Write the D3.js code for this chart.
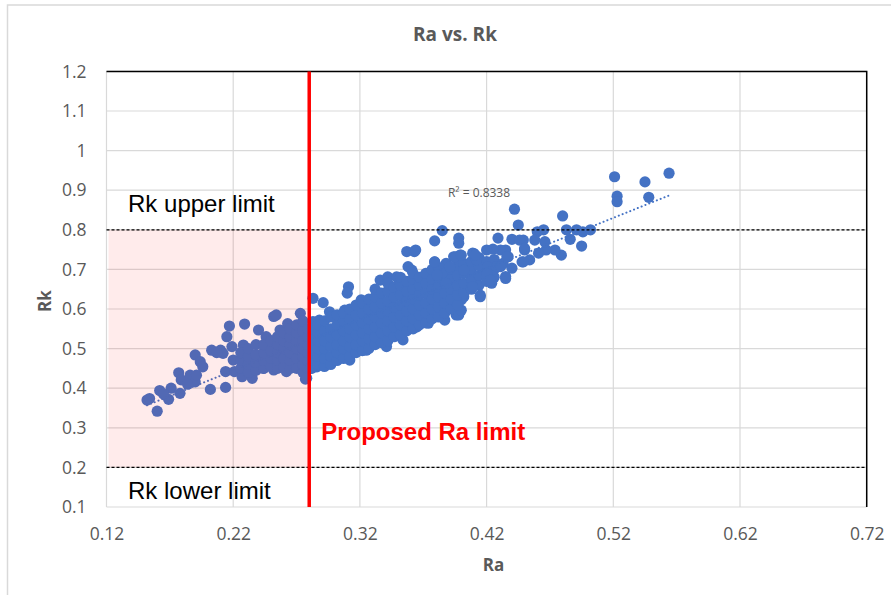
<!DOCTYPE html>
<html>
<head>
<meta charset="utf-8">
<script src="https://cdn.jsdelivr.net/npm/d3@7"></script>
<style>
  body { margin: 0; background: #fff; }
  svg { display: block; }
</style>
</head>
<body>
<div id="chart"></div>
<script>
var chartWidth = 891,
    chartHeight = 595;
var margin = { top: 71.4, right: 24.3, bottom: 88, left: 106.5 };

var xTicks = [0.12, 0.22, 0.32, 0.42, 0.52, 0.62, 0.72];
var yTicks = [0.1, 0.2, 0.3, 0.4, 0.5, 0.6, 0.7, 0.8, 0.9, 1, 1.1, 1.2];

var rkUpper = 0.8,
    rkLower = 0.2,
    raLimit = 0.28;
var r2Label = "R\u00b2 = 0.8338";

// points, [Ra, Rk]
var lowTail = [
  [0.152,0.370],[0.154,0.374],[0.160,0.342],[0.162,0.394],[0.169,0.372],[0.171,0.400],
  [0.178,0.387],[0.177,0.439],[0.179,0.421],[0.186,0.433],[0.190,0.416],[0.191,0.433],
  [0.190,0.484],[0.194,0.467],[0.196,0.454],[0.202,0.397],[0.203,0.496],[0.210,0.496],
  [0.212,0.488],[0.214,0.402],[0.215,0.530],[0.217,0.557],[0.214,0.442],[0.219,0.505],
  [0.220,0.471],[0.221,0.442],[0.165,0.385],[0.184,0.410],[0.207,0.490]
];

var pinkPoints = [
  [0.227,0.429],[0.229,0.562],[0.228,0.509],[0.231,0.480],[0.235,0.425],[0.236,0.454],
  [0.239,0.476],[0.240,0.547],[0.244,0.450],[0.246,0.530],[0.249,0.480],[0.252,0.446],
  [0.252,0.581],[0.254,0.585],[0.257,0.547],[0.258,0.505],[0.260,0.463],[0.262,0.442],
  [0.263,0.563],[0.266,0.530],[0.267,0.488],[0.270,0.454],[0.273,0.589],[0.274,0.547],
  [0.275,0.505],[0.276,0.471],[0.277,0.423]
];

var pinkCore = [
  [0.226,0.45],[0.226,0.47],[0.226,0.49],
  [0.232,0.44],[0.232,0.46],[0.232,0.48],[0.232,0.50],
  [0.238,0.445],[0.238,0.465],[0.238,0.485],[0.238,0.51],
  [0.244,0.45],[0.244,0.47],[0.244,0.49],[0.244,0.51],
  [0.250,0.455],[0.250,0.475],[0.250,0.495],[0.250,0.52],
  [0.255,0.45],[0.255,0.47],[0.255,0.49],[0.255,0.51],[0.255,0.53],
  [0.260,0.455],[0.260,0.475],[0.260,0.50],[0.260,0.52],[0.260,0.54],
  [0.265,0.45],[0.265,0.47],[0.265,0.49],[0.265,0.51],[0.265,0.53],[0.265,0.55],
  [0.270,0.45],[0.270,0.475],[0.270,0.50],[0.270,0.52],[0.270,0.54],[0.270,0.56],
  [0.275,0.44],[0.275,0.46],[0.275,0.48],[0.275,0.50],[0.275,0.52],[0.275,0.545],[0.275,0.57],
  [0.279,0.45],[0.279,0.47],[0.279,0.49],[0.279,0.51],[0.279,0.53],[0.279,0.55]
];

var bandPoints = [
  [0.283,0.627],[0.291,0.616],[0.288,0.572],[0.296,0.593],[0.283,0.568],[0.282,0.530],
  [0.282,0.463],[0.281,0.450],[0.291,0.513],[0.299,0.530],[0.304,0.555],[0.307,0.496],
  [0.311,0.656],[0.310,0.640],[0.308,0.597],[0.317,0.539],[0.315,0.505],[0.321,0.623],
  [0.325,0.597],[0.328,0.564],[0.331,0.530],[0.333,0.631],[0.336,0.673],[0.338,0.606],
  [0.341,0.505],[0.342,0.681],[0.344,0.564],[0.346,0.648],[0.349,0.681],[0.352,0.602],
  [0.354,0.522],[0.357,0.745],[0.358,0.707],[0.361,0.698],[0.363,0.745],[0.360,0.631],
  [0.365,0.555],[0.367,0.665],[0.370,0.597],[0.374,0.564],[0.373,0.681],[0.379,0.719],
  [0.381,0.648],[0.383,0.606],[0.387,0.572],[0.388,0.715],[0.391,0.673],[0.394,0.732],
  [0.396,0.585],[0.399,0.736],[0.402,0.631],[0.400,0.707],[0.407,0.698],[0.410,0.740],
  [0.412,0.665],[0.415,0.631],[0.417,0.707],[0.312,0.471],[0.307,0.480],[0.325,0.496],
  [0.291,0.488],[0.299,0.471],[0.286,0.454],[0.278,0.425],[0.364,0.749],[0.353,0.543],
  [0.364,0.555],[0.386,0.577],[0.398,0.585],[0.400,0.597],[0.400,0.623]
];

var bandCore = [
  [0.282,0.45],[0.282,0.47],[0.282,0.49],[0.282,0.51],[0.282,0.53],[0.282,0.55],
  [0.287,0.46],[0.287,0.48],[0.287,0.50],[0.287,0.52],[0.287,0.54],[0.287,0.56],
  [0.292,0.455],[0.292,0.475],[0.292,0.50],[0.292,0.52],[0.292,0.545],[0.292,0.57],
  [0.297,0.46],[0.297,0.48],[0.297,0.505],[0.297,0.53],[0.297,0.55],[0.297,0.58],
  [0.302,0.47],[0.302,0.49],[0.302,0.51],[0.302,0.535],[0.302,0.56],[0.302,0.585],
  [0.307,0.475],[0.307,0.50],[0.307,0.52],[0.307,0.545],[0.307,0.57],[0.307,0.59],
  [0.312,0.48],[0.312,0.505],[0.312,0.53],[0.312,0.55],[0.312,0.575],[0.312,0.60],
  [0.317,0.49],[0.317,0.51],[0.317,0.535],[0.317,0.56],[0.317,0.585],[0.317,0.61],
  [0.322,0.495],[0.322,0.52],[0.322,0.54],[0.322,0.565],[0.322,0.59],[0.322,0.615],
  [0.327,0.50],[0.327,0.525],[0.327,0.55],[0.327,0.575],[0.327,0.60],[0.327,0.625],
  [0.332,0.51],[0.332,0.53],[0.332,0.555],[0.332,0.58],[0.332,0.605],[0.332,0.63],[0.332,0.65],
  [0.337,0.515],[0.337,0.54],[0.337,0.565],[0.337,0.59],[0.337,0.615],[0.337,0.64],
  [0.342,0.52],[0.342,0.545],[0.342,0.57],[0.342,0.595],[0.342,0.62],[0.342,0.645],[0.342,0.665],
  [0.347,0.53],[0.347,0.555],[0.347,0.58],[0.347,0.605],[0.347,0.63],[0.347,0.655],
  [0.352,0.535],[0.352,0.56],[0.352,0.585],[0.352,0.61],[0.352,0.635],[0.352,0.66],[0.352,0.68],
  [0.357,0.545],[0.357,0.57],[0.357,0.595],[0.357,0.62],[0.357,0.645],[0.357,0.67],
  [0.362,0.55],[0.362,0.575],[0.362,0.60],[0.362,0.625],[0.362,0.65],[0.362,0.675],[0.362,0.69],
  [0.367,0.56],[0.367,0.585],[0.367,0.61],[0.367,0.635],[0.367,0.66],[0.367,0.68],
  [0.372,0.565],[0.372,0.59],[0.372,0.615],[0.372,0.64],[0.372,0.665],[0.372,0.69],
  [0.377,0.575],[0.377,0.60],[0.377,0.625],[0.377,0.65],[0.377,0.675],[0.377,0.70],
  [0.382,0.58],[0.382,0.605],[0.382,0.63],[0.382,0.655],[0.382,0.68],[0.382,0.705],
  [0.387,0.59],[0.387,0.615],[0.387,0.64],[0.387,0.665],[0.387,0.69],
  [0.392,0.60],[0.392,0.625],[0.392,0.65],[0.392,0.675],[0.392,0.70],
  [0.397,0.61],[0.397,0.635],[0.397,0.66],[0.397,0.685],[0.397,0.71],
  [0.402,0.64],[0.402,0.665],[0.402,0.69],[0.402,0.715],
  [0.408,0.65],[0.408,0.675],[0.408,0.70],[0.408,0.72],
  [0.414,0.66],[0.414,0.685],[0.414,0.71],[0.414,0.73],
  [0.420,0.67],[0.420,0.695],[0.420,0.72],
  [0.426,0.68],[0.426,0.70],[0.426,0.725]
];

var upperPoints = [
  [0.521,0.934],[0.523,0.885],[0.523,0.871],[0.545,0.921],[0.548,0.882],[0.564,0.943],
  [0.442,0.852],[0.445,0.812],[0.480,0.835],[0.483,0.800],[0.486,0.776],[0.491,0.800],
  [0.496,0.795],[0.502,0.800],[0.495,0.759],[0.479,0.736],[0.474,0.749],[0.467,0.749],
  [0.465,0.800],[0.460,0.795],[0.466,0.770],[0.458,0.774],[0.461,0.741],[0.454,0.724],
  [0.448,0.719],[0.449,0.774],[0.450,0.749],[0.440,0.776],[0.429,0.779],[0.435,0.749],
  [0.437,0.732],[0.431,0.749],[0.425,0.751],[0.420,0.749],[0.398,0.779],[0.398,0.766],
  [0.385,0.798],[0.379,0.772],[0.379,0.719],[0.395,0.732],[0.400,0.736],[0.409,0.741],
  [0.412,0.724],[0.421,0.707],[0.433,0.715],[0.435,0.682],[0.424,0.665],[0.415,0.635],
  [0.402,0.698],[0.391,0.707],[0.388,0.665],[0.381,0.686],[0.409,0.656],[0.420,0.690],
  [0.428,0.707],[0.440,0.703],[0.446,0.774],[0.450,0.753],[0.449,0.719],[0.436,0.732],
  [0.431,0.707],[0.435,0.677],[0.423,0.673],[0.411,0.736]
];

var allPoints = lowTail.concat(pinkPoints, pinkCore, bandPoints, bandCore, upperPoints);

var w = chartWidth - margin.left - margin.right,
    h = chartHeight - margin.top - margin.bottom;

var x = d3.scaleLinear().domain([0.12, 0.72]).range([0, w]);
var y = d3.scaleLinear().domain([0.1, 1.2]).range([h, 0]);

var svg = d3.select("#chart").append("svg")
    .attr("width", chartWidth)
    .attr("height", chartHeight);

// outer chart frame
svg.append("rect")
    .attr("x", 7.5).attr("y", 5)
    .attr("width", 900).attr("height", 620)
    .attr("fill", "#fff")
    .attr("stroke", "#d9d9d9")
    .attr("stroke-width", 1.5);

svg.append("text")
    .attr("x", 455).attr("y", 41)
    .attr("text-anchor", "middle")
    .attr("font-family", "Open Sans")
    .attr("font-weight", "bold")
    .attr("font-size", "19px")
    .attr("fill", "#595959")
    .text("Ra vs. Rk");

var g = svg.append("g")
    .attr("transform", "translate(" + margin.left + "," + margin.top + ")");

// grid
g.append("g").selectAll("line")
    .data(yTicks)
    .enter()
    .append("line")
        .attr("x1", 0).attr("x2", w)
        .attr("y1", function(d) { return y(d); })
        .attr("y2", function(d) { return y(d); })
        .attr("stroke", "#d9d9d9")
        .attr("stroke-width", 1.2);
g.append("g").selectAll("line")
    .data(xTicks)
    .enter()
    .append("line")
        .attr("x1", function(d) { return x(d); })
        .attr("x2", function(d) { return x(d); })
        .attr("y1", 0).attr("y2", h)
        .attr("stroke", "#d9d9d9")
        .attr("stroke-width", 1.2);

// axes (labels only, lines are the grid)
var xAxis = g.append("g")
    .attr("transform", "translate(0," + h + ")")
    .call(d3.axisBottom(x).tickValues(xTicks).tickSize(0).tickPadding(21)
        .tickFormat(function(d) { return d3.format(".2f")(d); }));
var yAxis = g.append("g")
    .call(d3.axisLeft(y).tickValues(yTicks).tickSize(0).tickPadding(20)
        .tickFormat(function(d) { return String(+d.toFixed(1)); }));
[xAxis, yAxis].forEach(function(a) {
    a.select(".domain").remove();
    a.selectAll("text")
        .attr("font-family", "Open Sans")
        .attr("font-size", "17.5px")
        .attr("fill", "#595959");
});

// points
g.append("g").selectAll("circle")
    .data(allPoints)
    .enter()
    .append("circle")
        .attr("cx", function(d) { return x(d[0]); })
        .attr("cy", function(d) { return y(d[1]); })
        .attr("r", 5.6)
        .attr("fill", "#4472c4");

// linear trendline from the points
var mx = d3.mean(allPoints, function(d) { return d[0]; }),
    my = d3.mean(allPoints, function(d) { return d[1]; });
var sxy = d3.sum(allPoints, function(d) { return (d[0] - mx) * (d[1] - my); }),
    sxx = d3.sum(allPoints, function(d) { return (d[0] - mx) * (d[0] - mx); });
var slope = sxy / sxx,
    icpt = my - slope * mx;
var xMin = d3.min(allPoints, function(d) { return d[0]; }),
    xMax = d3.max(allPoints, function(d) { return d[0]; });
g.append("line")
    .attr("x1", x(xMin)).attr("y1", y(icpt + slope * xMin))
    .attr("x2", x(xMax)).attr("y2", y(icpt + slope * xMax))
    .attr("stroke", "#4472c4")
    .attr("stroke-width", 2)
    .attr("stroke-linecap", "round")
    .attr("stroke-dasharray", "0.1,4");

g.append("text")
    .attr("x", x(0.3895)).attr("y", y(0.883))
    .attr("font-family", "Open Sans")
    .attr("font-size", "12px")
    .attr("fill", "#595959")
    .text(r2Label);

// pink zone left of the proposed limit
g.append("rect")
    .attr("x", x(0.12) + 2)
    .attr("y", y(rkUpper))
    .attr("width", x(raLimit) - x(0.12) - 2)
    .attr("height", y(rkLower) - y(rkUpper))
    .attr("fill", "#ff0000")
    .attr("opacity", 0.08);

// Rk limits
g.selectAll(".limit")
    .data([rkUpper, rkLower])
    .enter()
    .append("line")
        .attr("class", "limit")
        .attr("x1", 0).attr("x2", w)
        .attr("y1", function(d) { return y(d); })
        .attr("y2", function(d) { return y(d); })
        .attr("stroke", "#000")
        .attr("stroke-width", 1.3)
        .attr("stroke-dasharray", "3,2");

// frame top / right
g.append("path")
    .attr("d", "M0," + y(1.2) + "H" + x(0.72) + "V" + y(0.1))
    .attr("fill", "none")
    .attr("stroke", "#000")
    .attr("stroke-width", 1.5);

// proposed Ra limit
g.append("line")
    .attr("x1", x(raLimit)).attr("x2", x(raLimit))
    .attr("y1", 0).attr("y2", h)
    .attr("stroke", "#ff0000")
    .attr("stroke-width", 3.5);

g.append("text")
    .attr("x", x(0.137)).attr("y", y(0.845))
    .attr("font-family", "Liberation Sans")
    .attr("font-size", "24px")
    .attr("fill", "#000")
    .text("Rk upper limit");
g.append("text")
    .attr("x", x(0.137)).attr("y", y(0.12))
    .attr("font-family", "Liberation Sans")
    .attr("font-size", "24px")
    .attr("fill", "#000")
    .text("Rk lower limit");
g.append("text")
    .attr("x", x(0.2894)).attr("y", y(0.268))
    .attr("font-family", "Liberation Sans")
    .attr("font-weight", "bold")
    .attr("font-size", "24px")
    .attr("fill", "#ff0000")
    .text("Proposed Ra limit");

// axis titles
svg.append("text")
    .attr("x", margin.left + x(0.42) + 7).attr("y", 571)
    .attr("text-anchor", "middle")
    .attr("font-family", "Open Sans")
    .attr("font-weight", "bold")
    .attr("font-size", "17px")
    .attr("fill", "#595959")
    .text("Ra");
svg.append("text")
    .attr("transform", "translate(51," + (margin.top + y(0.6) - 8) + ") rotate(-90)")
    .attr("text-anchor", "middle")
    .attr("font-family", "Open Sans")
    .attr("font-weight", "bold")
    .attr("font-size", "17px")
    .attr("fill", "#595959")
    .text("Rk");
</script>
</body>
</html>
